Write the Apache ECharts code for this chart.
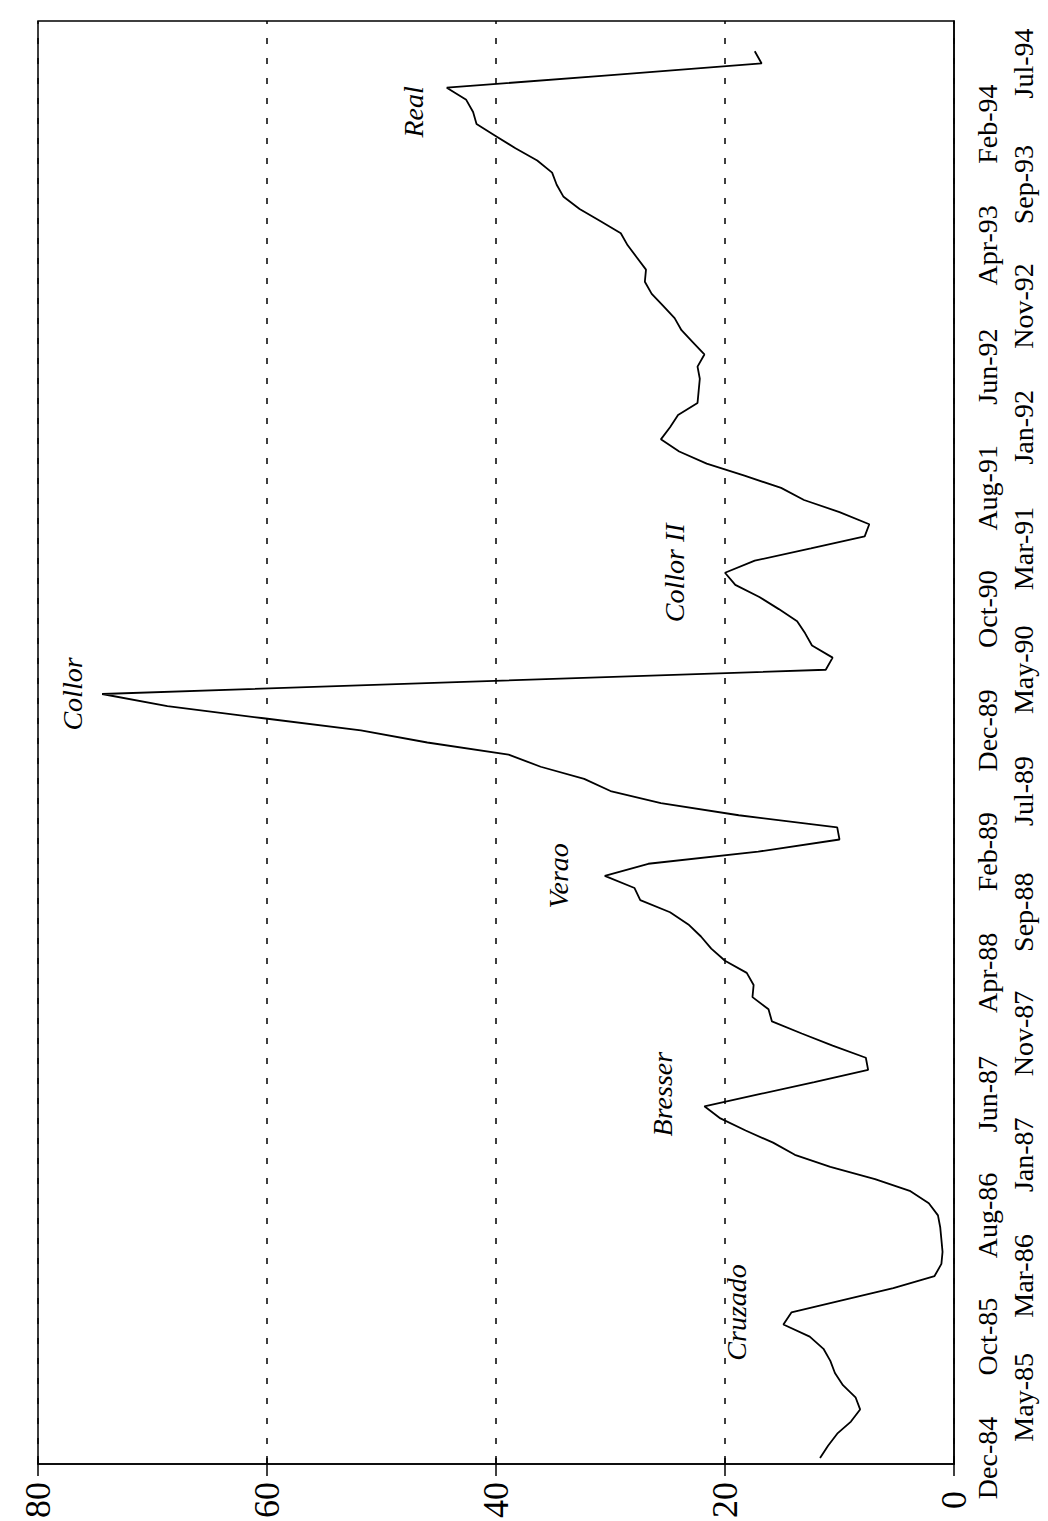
<!DOCTYPE html>
<html>
<head>
<meta charset="utf-8">
<script src="https://cdn.jsdelivr.net/npm/echarts@6/dist/echarts.min.js"></script>
<style>
html,body{margin:0;padding:0;background:#fff;overflow:hidden;width:1048px;height:1521px;}
#chart{position:absolute;left:0;top:0;width:1521px;height:1048px;transform-origin:0 0;transform:translateY(1521px) rotate(-90deg);}
</style>
</head>
<body>
<div id="chart"></div>
<script>
// Monthly categories, Dec-84 .. Oct-94
const months = [
 'Dec-84',
 'Jan-85','Feb-85','Mar-85','Apr-85','May-85','Jun-85','Jul-85','Aug-85','Sep-85','Oct-85','Nov-85','Dec-85',
 'Jan-86','Feb-86','Mar-86','Apr-86','May-86','Jun-86','Jul-86','Aug-86','Sep-86','Oct-86','Nov-86','Dec-86',
 'Jan-87','Feb-87','Mar-87','Apr-87','May-87','Jun-87','Jul-87','Aug-87','Sep-87','Oct-87','Nov-87','Dec-87',
 'Jan-88','Feb-88','Mar-88','Apr-88','May-88','Jun-88','Jul-88','Aug-88','Sep-88','Oct-88','Nov-88','Dec-88',
 'Jan-89','Feb-89','Mar-89','Apr-89','May-89','Jun-89','Jul-89','Aug-89','Sep-89','Oct-89','Nov-89','Dec-89',
 'Jan-90','Feb-90','Mar-90','Apr-90','May-90','Jun-90','Jul-90','Aug-90','Sep-90','Oct-90','Nov-90','Dec-90',
 'Jan-91','Feb-91','Mar-91','Apr-91','May-91','Jun-91','Jul-91','Aug-91','Sep-91','Oct-91','Nov-91','Dec-91',
 'Jan-92','Feb-92','Mar-92','Apr-92','May-92','Jun-92','Jul-92','Aug-92','Sep-92','Oct-92','Nov-92','Dec-92',
 'Jan-93','Feb-93','Mar-93','Apr-93','May-93','Jun-93','Jul-93','Aug-93','Sep-93','Oct-93','Nov-93','Dec-93',
 'Jan-94','Feb-94','Mar-94','Apr-94','May-94','Jun-94','Jul-94','Aug-94','Sep-94','Oct-94'
];

// Monthly inflation (%)
const inflation = [
 11.7, 11.0, 10.2, 9.0, 8.2, 8.6, 9.7, 10.4, 10.8, 11.4,
 12.6, 14.9, 14.2, 9.8, 5.3, 1.7, 1.1, 1.0, 1.1, 1.2,
 1.4, 2.2, 3.8, 6.9, 10.8, 13.9, 15.8, 18.2, 20.4, 21.8,
 17.0, 12.2, 7.5, 7.7, 10.6, 13.3, 15.9, 16.2, 17.6, 17.5,
 18.1, 20.0, 21.2, 22.1, 23.2, 24.8, 27.4, 27.9, 30.5, 26.7,
 17.1, 10.0, 10.2, 18.8, 25.6, 30.0, 32.3, 36.1, 38.9, 46.0,
 51.8, 60.3, 68.7, 74.4, 42.8, 11.2, 10.6, 12.4, 13.0, 13.7,
 15.3, 17.0, 19.1, 20.0, 17.4, 12.5, 7.8, 7.4, 10.0, 13.1,
 15.1, 18.3, 21.6, 24.0, 25.6, 24.8, 24.1, 22.4, 22.3, 22.2,
 22.4, 21.8, 22.8, 23.8, 24.4, 25.4, 26.4, 27.0, 26.9, 27.7,
 28.5, 29.1, 30.9, 32.7, 34.1, 34.7, 35.1, 36.4, 38.3, 40.0,
 41.7, 42.0, 42.6, 44.3, 30.5, 16.8, 17.4
];

// Value axis ticks
const valueTicks = [0, 20, 40, 60, 80];

// Date labels every 5 months, staggered on two rows
const labelStep = 5;

// Plan annotations
const planNames  = ['Cruzado', 'Bresser', 'Verao', 'Collor', 'Collor II', 'Real'];
const planMonths = ['Dec-85', 'Jun-87', 'Dec-88', 'Mar-90', 'Jan-91', 'Mar-94'];
const planValues = [19.0, 25.5, 34.5, 77.0, 24.4, 47.2];

const FONT = "'Liberation Serif', 'Times New Roman', serif";

function dateAxis(row, margin, showLine) {
  return {
    type: 'category',
    data: months,
    boundaryGap: true,
    position: 'bottom',
    axisLine: {show: showLine, lineStyle: {color: '#000', width: 1.5}},
    axisTick: {show: false},
    axisLabel: {
      interval: function (i) { return i % (2 * labelStep) === row * labelStep; },
      margin: margin,
      fontFamily: FONT,
      fontSize: 28,
      lineHeight: 36,
      color: '#000'
    },
    splitLine: {show: false}
  };
}

const chart = echarts.init(document.getElementById('chart'), null, {renderer: 'svg'});
chart.setOption({
  animation: false,
  backgroundColor: '#fff',
  grid: {
    left: 57, right: 21, top: 38, bottom: 94,
    show: true, borderColor: '#000', borderWidth: 1.5,
    containLabel: false, outerBoundsMode: 'none'
  },
  xAxis: [dateAxis(0, 15, true), dateAxis(1, 51, false)],
  yAxis: [
    {
      type: 'value',
      min: valueTicks[0], max: valueTicks[valueTicks.length - 1], interval: 20,
      position: 'left',
      axisLine: {show: true, lineStyle: {color: '#000', width: 1.5}},
      axisTick: {show: true, length: 12, lineStyle: {color: '#000', width: 1.5}},
      axisLabel: {margin: 36, align: 'center', fontFamily: FONT, fontSize: 36, color: '#000'},
      splitLine: {show: true, lineStyle: {color: '#000', width: 1.5, type: [6, 14]}}
    },
    {
      type: 'value',
      min: valueTicks[0], max: valueTicks[valueTicks.length - 1], interval: 20,
      position: 'left',
      axisLine: {show: false},
      axisTick: {show: true, inside: true, length: 8, lineStyle: {color: '#000', width: 1.5}},
      axisLabel: {show: false},
      splitLine: {show: false}
    }
  ],
  series: [{
    type: 'line',
    xAxisIndex: 0,
    yAxisIndex: 0,
    data: inflation,
    symbol: 'none',
    lineStyle: {color: '#000', width: 1.8},
    markPoint: {
      symbol: 'circle',
      symbolSize: 0,
      silent: true,
      label: {
        show: true,
        position: 'inside',
        formatter: function (p) { return p.name; },
        fontFamily: FONT,
        fontStyle: 'italic',
        fontSize: 28,
        color: '#000'
      },
      data: planNames.map(function (n, k) {
        return {name: n, coord: [planMonths[k], planValues[k]]};
      })
    }
  }]
});
</script>
</body>
</html>
